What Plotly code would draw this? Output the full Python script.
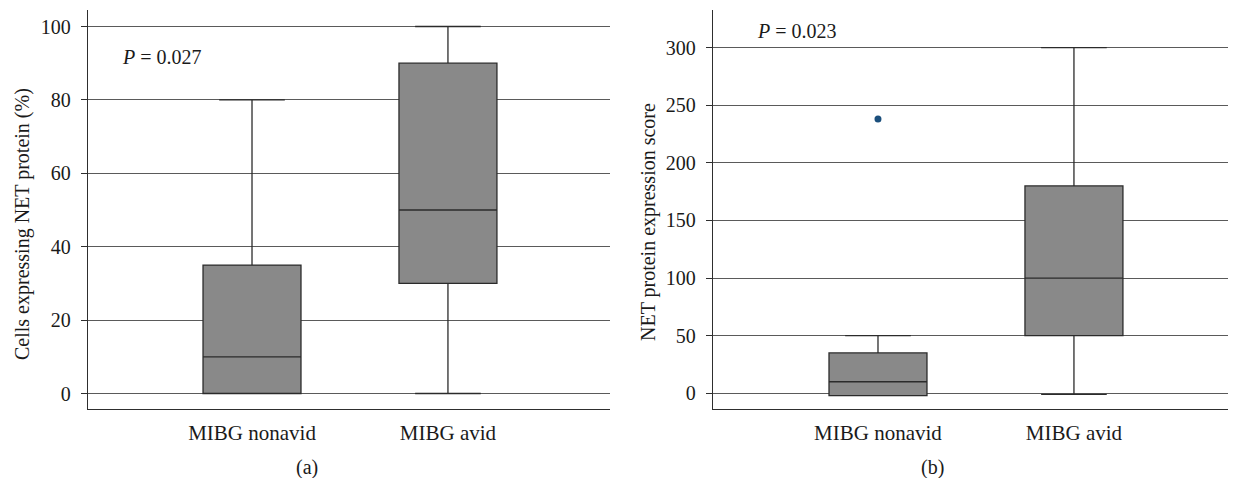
import plotly.graph_objects as go

# Browser body margin offset (page draws the figure 8px in from top-left)
OFF = 8
REF_W, REF_H = 1236, 478
W, H = REF_W - OFF, REF_H - OFF

categories = ["MIBG nonavid", "MIBG avid"]

# Panel (a): Cells expressing NET protein (%)
a_lower = [0, 0]
a_q1 = [0, 30]
a_median = [10, 50]
a_q3 = [35, 90]
a_upper = [80, 100]
a_ticks = [0, 20, 40, 60, 80, 100]

# Panel (b): NET protein expression score
b_lower = [-2, -1]
b_q1 = [-2, 50]
b_median = [10, 100]
b_q3 = [35, 180]
b_upper = [50, 300]
b_ticks = [0, 50, 100, 150, 200, 250, 300]
b_outlier_cat = ["MIBG nonavid"]
b_outlier_val = [238]

FONT = "Liberation Serif"
BOX_FILL = "#898989"
BOX_LINE = "#2b2b2b"
GRID = "#5a5a5a"
AXIS = "#2e2e2e"


def px_x(p):
    return (p - OFF) / W


def px_y(p):
    return 1 - (p - OFF) / H


fig = go.Figure()

for i, cat in enumerate(categories):
    fig.add_trace(go.Box(
        x=[cat], q1=[a_q1[i]], median=[a_median[i]], q3=[a_q3[i]],
        lowerfence=[a_lower[i]], upperfence=[a_upper[i]],
        fillcolor=BOX_FILL, line=dict(color=BOX_LINE, width=1.3),
        width=0.5, whiskerwidth=0.67, boxpoints=False, showlegend=False,
        xaxis="x", yaxis="y", hoverinfo="skip",
    ))
    fig.add_trace(go.Box(
        x=[cat], q1=[b_q1[i]], median=[b_median[i]], q3=[b_q3[i]],
        lowerfence=[b_lower[i]], upperfence=[b_upper[i]],
        fillcolor=BOX_FILL, line=dict(color=BOX_LINE, width=1.3),
        width=0.5, whiskerwidth=0.67, boxpoints=False, showlegend=False,
        xaxis="x2", yaxis="y2", hoverinfo="skip",
    ))

fig.add_trace(go.Scatter(
    x=b_outlier_cat, y=b_outlier_val, mode="markers",
    marker=dict(color="#1b4f7c", size=7), showlegend=False,
    xaxis="x2", yaxis="y2",
))

ydom = [px_y(409.3), px_y(10)]

common_x = dict(
    type="category", categoryorder="array", categoryarray=categories,
    showgrid=False, zeroline=False, showline=True, linecolor=AXIS, linewidth=1.3,
    ticks="", tickfont=dict(family=FONT, size=21, color="#1a1a1a"),
    ticklabelstandoff=4,
)
common_y = dict(
    showgrid=True, gridcolor=GRID, gridwidth=1, zeroline=False,
    showline=True, linecolor=AXIS, linewidth=1.3,
    ticks="outside", ticklen=6, tickcolor=AXIS, tickwidth=1,
    tickfont=dict(family=FONT, size=20, color="#1a1a1a"),
    ticklabelstandoff=6, tickmode="array",
)

fig.update_layout(
    width=W, height=H,
    margin=dict(l=0, r=0, t=0, b=0),
    paper_bgcolor="white", plot_bgcolor="white",
    font=dict(family=FONT, size=20, color="#1a1a1a"),
    xaxis=dict(common_x, domain=[px_x(88), px_x(610)], range=[-0.837, 1.827], anchor="y"),
    yaxis=dict(common_y, domain=ydom, range=[-4.3, 104.5], tickvals=a_ticks,
               ticktext=[str(v) for v in a_ticks], anchor="x"),
    xaxis2=dict(common_x, domain=[px_x(713), 1.0], range=[-0.842, 1.827], anchor="y2"),
    yaxis2=dict(common_y, domain=ydom, range=[-13.9, 332.7], tickvals=b_ticks,
                ticktext=[str(v) for v in b_ticks], anchor="x2"),
    boxgap=0, boxgroupgap=0,
)

annots = [
    dict(text="Cells expressing NET protein (%)", x=px_x(22), y=px_y(224), textangle=-90),
    dict(text="NET protein expression score", x=px_x(648), y=px_y(222), textangle=-90),
    dict(text="<i>P</i> = 0.027", x=px_x(120), y=px_y(57), xanchor="left"),
    dict(text="<i>P</i> = 0.023", x=px_x(755), y=px_y(31), xanchor="left"),
    dict(text="(a)", x=px_x(307), y=px_y(467)),
    dict(text="(b)", x=px_x(932), y=px_y(467)),
]
for a in annots:
    a.setdefault("xanchor", "center")
    fig.add_annotation(xref="paper", yref="paper", showarrow=False, yanchor="middle",
                       font=dict(family=FONT, size=20, color="#1a1a1a"), **a)

fig.write_html("out.html")
